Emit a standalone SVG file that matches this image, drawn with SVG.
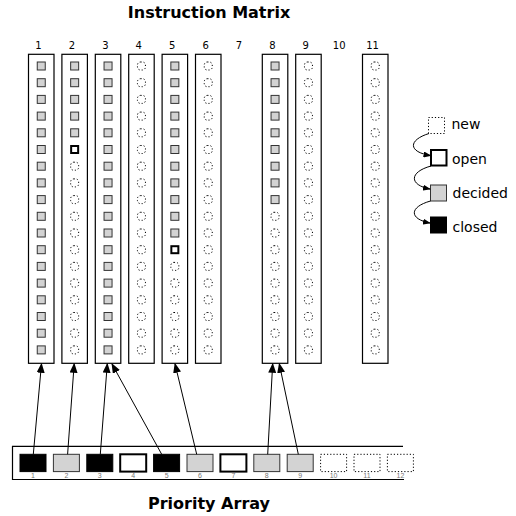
<svg xmlns="http://www.w3.org/2000/svg" xmlns:xlink="http://www.w3.org/1999/xlink" width="516" height="516" viewBox="0 0 516 516">
<style>
.title{font-family:"DejaVu Sans",Verdana,sans-serif;font-weight:bold;font-size:16px;fill:#000;text-anchor:middle}
.cn{font-family:"DejaVu Sans",Verdana,sans-serif;font-size:10px;fill:#000;text-anchor:middle}
.lg{font-family:"DejaVu Sans",Verdana,sans-serif;font-size:14px;fill:#000}
.pn{font-family:"Liberation Sans",Arial,sans-serif;font-size:7px;fill:#777;text-anchor:middle}
.colbox{fill:#fff;stroke:#000;stroke-width:1.2}
.dec{fill:#d3d3d3;stroke:#333;stroke-width:1}
.opn{fill:#fff;stroke:#000;stroke-width:2}
.new{fill:none;stroke:#000;stroke-width:1;stroke-dasharray:1.2 2}
.cls{fill:#000;stroke:#000;stroke-width:1}
.conn{stroke:#000;stroke-width:1;fill:none}
</style>
<defs>
<marker id="ah" markerWidth="10" markerHeight="8" refX="9" refY="4" orient="auto" markerUnits="userSpaceOnUse">
<path d="M0,0 L10,4 L0,8 Z" fill="#000"/>
</marker>
<marker id="ahs" markerWidth="8" markerHeight="6" refX="7" refY="3" orient="auto" markerUnits="userSpaceOnUse">
<path d="M0,0 L8,3 L0,6 Z" fill="#000"/>
</marker>
<rect id="d" class="dec" x="-4" y="0" width="8" height="8"/>
<rect id="o" class="opn" x="-3.5" y="0.5" width="7" height="7"/>
<rect id="n" class="new" x="-4" y="0" width="8" height="8" rx="3"/>
</defs>

<text class="title" x="209" y="17.5">Instruction Matrix</text>

<g id="colnums">
<text class="cn" x="38.5" y="48.5">1</text>
<text class="cn" x="72" y="48.5">2</text>
<text class="cn" x="105.4" y="48.5">3</text>
<text class="cn" x="138.8" y="48.5">4</text>
<text class="cn" x="172.2" y="48.5">5</text>
<text class="cn" x="205.6" y="48.5">6</text>
<text class="cn" x="239" y="48.5">7</text>
<text class="cn" x="272.4" y="48.5">8</text>
<text class="cn" x="305.8" y="48.5">9</text>
<text class="cn" x="339.2" y="48.5">10</text>
<text class="cn" x="372.6" y="48.5">11</text>
</g>

<g id="col1" transform="translate(41.25,0)">
<rect class="colbox" x="-12.75" y="54.3" width="25.5" height="309"/>
<use href="#d" y="62"/><use href="#d" y="78.7"/><use href="#d" y="95.4"/><use href="#d" y="112.1"/><use href="#d" y="128.8"/><use href="#d" y="145.5"/><use href="#d" y="162.2"/><use href="#d" y="178.9"/><use href="#d" y="195.6"/><use href="#d" y="212.3"/><use href="#d" y="229"/><use href="#d" y="245.7"/><use href="#d" y="262.4"/><use href="#d" y="279.1"/><use href="#d" y="295.8"/><use href="#d" y="312.5"/><use href="#d" y="329.2"/><use href="#d" y="345.9"/>
</g>
<g id="col2" transform="translate(74.65,0)">
<rect class="colbox" x="-12.75" y="54.3" width="25.5" height="309"/>
<use href="#d" y="62"/><use href="#d" y="78.7"/><use href="#d" y="95.4"/><use href="#d" y="112.1"/><use href="#d" y="128.8"/><use href="#o" y="145.5"/><use href="#n" y="162.2"/><use href="#n" y="178.9"/><use href="#n" y="195.6"/><use href="#n" y="212.3"/><use href="#n" y="229"/><use href="#n" y="245.7"/><use href="#n" y="262.4"/><use href="#n" y="279.1"/><use href="#n" y="295.8"/><use href="#n" y="312.5"/><use href="#n" y="329.2"/><use href="#n" y="345.9"/>
</g>
<g id="col3" transform="translate(108.05,0)">
<rect class="colbox" x="-12.75" y="54.3" width="25.5" height="309"/>
<use href="#d" y="62"/><use href="#d" y="78.7"/><use href="#d" y="95.4"/><use href="#d" y="112.1"/><use href="#d" y="128.8"/><use href="#d" y="145.5"/><use href="#d" y="162.2"/><use href="#d" y="178.9"/><use href="#d" y="195.6"/><use href="#d" y="212.3"/><use href="#d" y="229"/><use href="#d" y="245.7"/><use href="#d" y="262.4"/><use href="#d" y="279.1"/><use href="#d" y="295.8"/><use href="#d" y="312.5"/><use href="#d" y="329.2"/><use href="#d" y="345.9"/>
</g>
<g id="col4" transform="translate(141.45,0)">
<rect class="colbox" x="-12.75" y="54.3" width="25.5" height="309"/>
<use href="#n" y="62"/><use href="#n" y="78.7"/><use href="#n" y="95.4"/><use href="#n" y="112.1"/><use href="#n" y="128.8"/><use href="#n" y="145.5"/><use href="#n" y="162.2"/><use href="#n" y="178.9"/><use href="#n" y="195.6"/><use href="#n" y="212.3"/><use href="#n" y="229"/><use href="#n" y="245.7"/><use href="#n" y="262.4"/><use href="#n" y="279.1"/><use href="#n" y="295.8"/><use href="#n" y="312.5"/><use href="#n" y="329.2"/><use href="#n" y="345.9"/>
</g>
<g id="col5" transform="translate(174.85,0)">
<rect class="colbox" x="-12.75" y="54.3" width="25.5" height="309"/>
<use href="#d" y="62"/><use href="#d" y="78.7"/><use href="#d" y="95.4"/><use href="#d" y="112.1"/><use href="#d" y="128.8"/><use href="#d" y="145.5"/><use href="#d" y="162.2"/><use href="#d" y="178.9"/><use href="#d" y="195.6"/><use href="#d" y="212.3"/><use href="#d" y="229"/><use href="#o" y="245.7"/><use href="#n" y="262.4"/><use href="#n" y="279.1"/><use href="#n" y="295.8"/><use href="#n" y="312.5"/><use href="#n" y="329.2"/><use href="#n" y="345.9"/>
</g>
<g id="col6" transform="translate(208.25,0)">
<rect class="colbox" x="-12.75" y="54.3" width="25.5" height="309"/>
<use href="#n" y="62"/><use href="#n" y="78.7"/><use href="#n" y="95.4"/><use href="#n" y="112.1"/><use href="#n" y="128.8"/><use href="#n" y="145.5"/><use href="#n" y="162.2"/><use href="#n" y="178.9"/><use href="#n" y="195.6"/><use href="#n" y="212.3"/><use href="#n" y="229"/><use href="#n" y="245.7"/><use href="#n" y="262.4"/><use href="#n" y="279.1"/><use href="#n" y="295.8"/><use href="#n" y="312.5"/><use href="#n" y="329.2"/><use href="#n" y="345.9"/>
</g>
<g id="col8" transform="translate(275.05,0)">
<rect class="colbox" x="-12.75" y="54.3" width="25.5" height="309"/>
<use href="#d" y="62"/><use href="#d" y="78.7"/><use href="#d" y="95.4"/><use href="#d" y="112.1"/><use href="#d" y="128.8"/><use href="#d" y="145.5"/><use href="#d" y="162.2"/><use href="#d" y="178.9"/><use href="#d" y="195.6"/><use href="#n" y="212.3"/><use href="#n" y="229"/><use href="#n" y="245.7"/><use href="#n" y="262.4"/><use href="#n" y="279.1"/><use href="#n" y="295.8"/><use href="#n" y="312.5"/><use href="#n" y="329.2"/><use href="#n" y="345.9"/>
</g>
<g id="col9" transform="translate(308.45,0)">
<rect class="colbox" x="-12.75" y="54.3" width="25.5" height="309"/>
<use href="#n" y="62"/><use href="#n" y="78.7"/><use href="#n" y="95.4"/><use href="#n" y="112.1"/><use href="#n" y="128.8"/><use href="#n" y="145.5"/><use href="#n" y="162.2"/><use href="#n" y="178.9"/><use href="#n" y="195.6"/><use href="#n" y="212.3"/><use href="#n" y="229"/><use href="#n" y="245.7"/><use href="#n" y="262.4"/><use href="#n" y="279.1"/><use href="#n" y="295.8"/><use href="#n" y="312.5"/><use href="#n" y="329.2"/><use href="#n" y="345.9"/>
</g>
<g id="col11" transform="translate(375.25,0)">
<rect class="colbox" x="-12.75" y="54.3" width="25.5" height="309"/>
<use href="#n" y="62"/><use href="#n" y="78.7"/><use href="#n" y="95.4"/><use href="#n" y="112.1"/><use href="#n" y="128.8"/><use href="#n" y="145.5"/><use href="#n" y="162.2"/><use href="#n" y="178.9"/><use href="#n" y="195.6"/><use href="#n" y="212.3"/><use href="#n" y="229"/><use href="#n" y="245.7"/><use href="#n" y="262.4"/><use href="#n" y="279.1"/><use href="#n" y="295.8"/><use href="#n" y="312.5"/><use href="#n" y="329.2"/><use href="#n" y="345.9"/>
</g>

<g id="legend">
<rect class="new" x="428.5" y="117.5" width="16" height="16" rx="0"/>
<rect class="opn" x="431" y="150" width="15.5" height="15.5"/>
<rect class="dec" x="430.5" y="185" width="16" height="16"/>
<rect class="cls" x="430.5" y="217" width="16" height="16"/>
<text class="lg" x="451.5" y="128.5">new</text>
<text class="lg" x="452" y="163.5">open</text>
<text class="lg" x="452.5" y="197.5">decided</text>
<text class="lg" x="452.5" y="231.5">closed</text>
</g>

<g id="priority">
<path d="M403,446.3 H12.5 V479.5 H404" fill="none" stroke="#000" stroke-width="1.2"/>
<rect class="cls" x="20" y="454.3" width="26" height="17.3"/>
<rect class="dec" x="53.4" y="454.3" width="26" height="17.3"/>
<rect class="cls" x="86.8" y="454.3" width="26" height="17.3"/>
<rect class="opn" x="120.2" y="454.3" width="26" height="17.3"/>
<rect class="cls" x="153.6" y="454.3" width="26" height="17.3"/>
<rect class="dec" x="187" y="454.3" width="26" height="17.3"/>
<rect class="opn" x="220.4" y="454.3" width="26" height="17.3"/>
<rect class="dec" x="253.8" y="454.3" width="26" height="17.3"/>
<rect class="dec" x="287.2" y="454.3" width="26" height="17.3"/>
<rect class="new" x="320.6" y="454.3" width="26" height="17.3"/>
<rect class="new" x="354" y="454.3" width="26" height="17.3"/>
<rect class="new" x="387.4" y="454.3" width="26" height="17.3"/>
<text class="pn" x="33" y="478">1</text>
<text class="pn" x="66.4" y="478">2</text>
<text class="pn" x="99.8" y="478">3</text>
<text class="pn" x="133.2" y="478">4</text>
<text class="pn" x="166.6" y="478">5</text>
<text class="pn" x="200" y="478">6</text>
<text class="pn" x="233.4" y="478">7</text>
<text class="pn" x="266.8" y="478">8</text>
<text class="pn" x="300.2" y="478">9</text>
<text class="pn" x="333.6" y="478">10</text>
<text class="pn" x="367" y="478">11</text>
<text class="pn" x="400.4" y="478">12</text>
</g>

<g id="connectors">
<line class="conn" x1="33.3" y1="454.3" x2="41.5" y2="363.8" marker-end="url(#ah)"/>
<line class="conn" x1="67.6" y1="454.3" x2="74.2" y2="363.8" marker-end="url(#ah)"/>
<line class="conn" x1="100.3" y1="454.3" x2="107.3" y2="363.8" marker-end="url(#ah)"/>
<line class="conn" x1="161.7" y1="454.3" x2="112" y2="364" marker-end="url(#ah)"/>
<line class="conn" x1="196.7" y1="454.3" x2="175" y2="363.8" marker-end="url(#ah)"/>
<line class="conn" x1="267.7" y1="454.3" x2="272.7" y2="363.8" marker-end="url(#ah)"/>
<line class="conn" x1="298.3" y1="454.3" x2="279.3" y2="363.8" marker-end="url(#ah)"/>
<path class="conn" d="M429,133.5 C408,140 408,152 430.5,155.5" marker-end="url(#ahs)"/>
<path class="conn" d="M431,166 C409,172 409,185 430,189" marker-end="url(#ahs)"/>
<path class="conn" d="M430.5,201 C409,207 409,219 430,223" marker-end="url(#ahs)"/>
</g>

<text class="title" x="209" y="509">Priority Array</text>
</svg>
